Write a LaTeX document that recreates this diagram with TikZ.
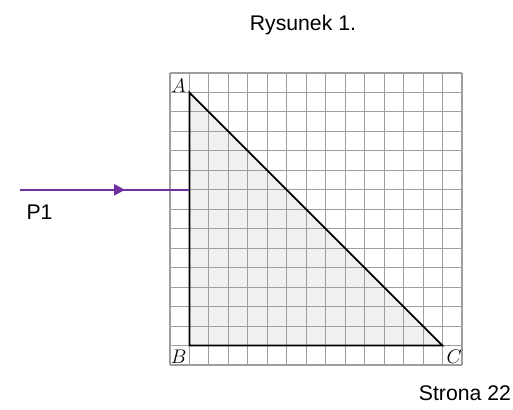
\documentclass[tikz,border=0pt]{standalone}
\usepackage{fontspec}
\setmainfont{Liberation Sans}
\usetikzlibrary{arrows.meta,decorations.markings}
\begin{document}
\begin{tikzpicture}[x=0.5cm,y=0.5cm,
    gridline/.style={draw=black!38,line width=0.8pt},
    side/.style={draw=black,line width=1.3pt},
    vertex/.style={inner sep=0pt,font=\fontsize{14}{16}\selectfont},
    ray/.style={draw={rgb,255:red,112;green,48;blue,160},line width=1.8pt,
      postaction={decorate},decoration={markings,
        mark=at position 0.62 with {\arrow{Triangle[length=8pt,width=8pt]}}}},
    caption/.style={inner sep=0pt,font=\fontsize{15.5}{18}\selectfont}]
   \useasboundingbox (-8.73,-2.26) rectangle (17.62,18.75);
   \coordinate (A) at (1,14);
   \coordinate (B) at (1,1);
   \coordinate (C) at (14,1);
   \fill[black!6] (A) -- (B) -- (C) -- cycle;
   \draw[gridline,step=0.5cm] (0,0) grid (15,15);
   \draw[side] (A) -- (B) -- (C) -- cycle;
   \node[vertex] at (0.45,14.35) {$A$};
   \node[vertex] at (0.45,0.45) {$B$};
   \node[vertex] at (14.6,0.45) {$C$};
   % incoming ray
   \coordinate (rayin) at (-7.7,9);
   \coordinate (rayout) at (1,9);
   \draw[ray] (rayin) -- (rayout);
   \node[caption] (p1) at (-6.7,7.86) {P1};
   \node[caption] (title) at (6.83,17.46) {Rysunek 1.};
   \node[caption] (page) at (15.15,-1.44) {Strona 22};
\end{tikzpicture}
\end{document}
